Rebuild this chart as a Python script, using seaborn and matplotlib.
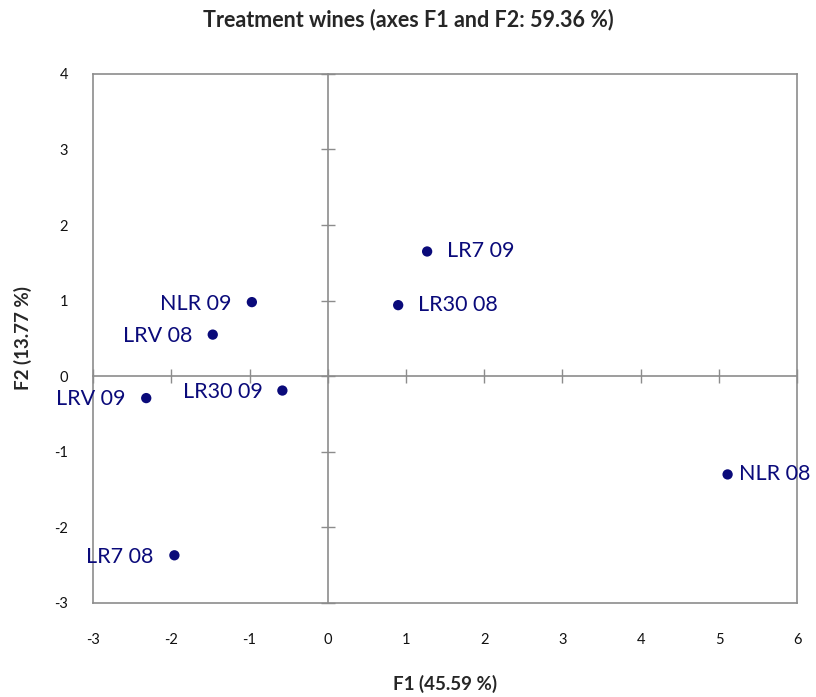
import matplotlib
matplotlib.use("Agg")
import matplotlib.pyplot as plt
import seaborn as sns
import pandas as pd

# PCA scores of the treatment wines on the first two factors
samples = ["LR7 09", "LR30 08", "NLR 09", "LRV 08", "LR30 09", "LRV 09", "NLR 08", "LR7 08"]
f1 = [1.27, 0.90, -0.97, -1.47, -0.58, -2.32, 5.11, -1.96]
f2 = [1.65, 0.94, 0.98, 0.55, -0.19, -0.29, -1.30, -2.37]

x_ticks = [-3, -2, -1, 0, 1, 2, 3, 4, 5, 6]
y_ticks = [-3, -2, -1, 0, 1, 2, 3, 4]

df = pd.DataFrame({"sample": samples, "F1": f1, "F2": f2})

sns.set_theme(style="white")
plt.rcParams["font.family"] = ["Lato", "DejaVu Sans"]
plt.rcParams["axes.unicode_minus"] = False

navy = "#0a0a7a"
grey = "#8c8c8c"

# where each point label sits relative to its marker (offset in points)
label_offsets = {
    "LR7 09": (14, 0), "LR30 08": (14, 0), "NLR 08": (8, 0),
    "NLR 09": (-15, -1), "LRV 08": (-15, -1), "LR30 09": (-14, -1),
    "LRV 09": (-15, -1), "LR7 08": (-15, -1),
}

fig = plt.figure(figsize=(8.16, 6.97), dpi=100)
ax = fig.add_axes([0.114, 0.135, 0.863, 0.759])

sns.scatterplot(data=df, x="F1", y="F2", color=navy, s=55, edgecolor="none", ax=ax, zorder=3)

xmin, xmax = x_ticks[0], x_ticks[-1]
ymin, ymax = y_ticks[0], y_ticks[-1]
ax.set_xlim(xmin, xmax)
ax.set_ylim(ymin, ymax)

ax.set_xticks(x_ticks)
ax.set_yticks(y_ticks)
ax.tick_params(axis="both", length=0, labelsize=10.5, colors="#111111")
ax.tick_params(axis="x", pad=22)
ax.tick_params(axis="y", pad=18)
for sp in ax.spines.values():
    sp.set_color(grey)
    sp.set_linewidth(1.2)

# zero axes with crossing tick marks
sx = ax.secondary_xaxis((0 - ymin) / (ymax - ymin))
sx.set_xticks(x_ticks)
sx.set_xticklabels([])
sx.tick_params(direction="inout", length=10, width=1, color=grey)
sx.spines["bottom"].set_color(grey)
sx.spines["bottom"].set_linewidth(1.2)

sy = ax.secondary_yaxis((0 - xmin) / (xmax - xmin))
sy.set_yticks(y_ticks)
sy.set_yticklabels([])
sy.tick_params(direction="inout", length=10, width=1, color=grey)
sy.spines["left"].set_color(grey)
sy.spines["left"].set_linewidth(1.2)

for _, r in df.iterrows():
    dx, dy = label_offsets[r["sample"]]
    ax.annotate(r["sample"], (r["F1"], r["F2"]), xytext=(dx, dy), textcoords="offset points",
                ha="left" if dx > 0 else "right", va="center", color=navy,
                fontsize=15.5, zorder=4, annotation_clip=False)

ax.set_xlabel("F1 (45.59 %)", fontsize=13.5, fontweight="bold", labelpad=20)
ax.set_ylabel("F2 (13.77 %)", fontsize=13.5, fontweight="bold", labelpad=16)
fig.suptitle("Treatment wines (axes F1 and F2: 59.36 %)", fontsize=15.5, fontweight="bold", y=0.988)

fig.savefig("out.png", dpi=100)
